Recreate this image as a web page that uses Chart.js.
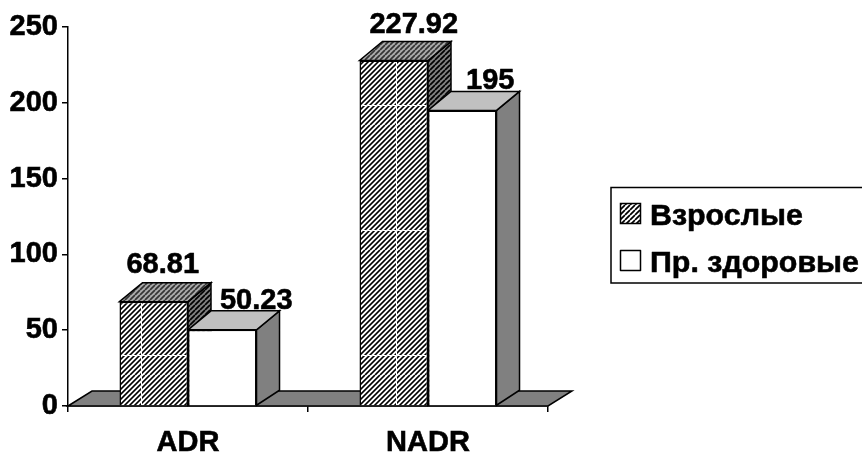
<!DOCTYPE html>
<html><head><meta charset="utf-8">
<style>html,body{margin:0;padding:0;background:#fff}#w{width:862px;height:457px;position:relative}</style>
<script src="https://cdn.jsdelivr.net/npm/chart.js@4"></script></head>
<body><div id="w"><canvas id="c" width="862" height="457"></canvas></div>
<script>
const categories = ['ADR', 'NADR'];
const adults = [68.81, 227.92];
const healthy = [50.23, 195];
const adultsLabels = ['68.81', '227.92'];
const healthyLabels = ['50.23', '195'];
const yTicks = [0, 50, 100, 150, 200, 250];
const seriesNames = ['Взрослые', 'Пр. здоровые'];

const FAMILY = '"Liberation Sans", Arial, sans-serif';
const HEAVY = 0.6;
function hatch(ctx, fg, bg, seams) {
  const w = seams ? 255 : 5, h = seams ? 125 : 5;
  const t = document.createElement('canvas'); t.width = w; t.height = h;
  const g = t.getContext('2d');
  g.fillStyle = bg; g.fillRect(0, 0, w, h);
  g.strokeStyle = fg; g.lineWidth = 1.7;
  g.beginPath();
  for (let k = -h - 5; k < w + h + 5; k += 5) { g.moveTo(k, h); g.lineTo(k + h, 0); }
  g.stroke();
  if (seams) { g.fillStyle = bg; g.fillRect(141, 0, 1, h); g.fillRect(0, 105, w, 1); }
  return ctx.createPattern(t, 'repeat');
}
const ctx = document.getElementById('c').getContext('2d');
const frontHatch = hatch(ctx, '#000', '#fff', true);
const topHatch = hatch(ctx, '#333', '#aaa', false);
const sideHatch = hatch(ctx, '#000', '#808080', false);

const DX = 23, DY = 19, FLOOR_DX = 24, FLOOR_DY = 15, SIDE_BOTTOM_DY = 15;
function poly(c, pts, fill) {
  c.beginPath(); pts.forEach((p, i) => i ? c.lineTo(p[0], p[1]) : c.moveTo(p[0], p[1])); c.closePath();
  c.fillStyle = fill; c.fill(); c.lineWidth = 1.5; c.strokeStyle = '#000'; c.stroke();
}
function heavyText(c, s, x, y) {
  c.fillStyle = '#000'; c.strokeStyle = '#000'; c.lineWidth = HEAVY; c.lineJoin = 'round';
  c.fillText(s, x, y); c.strokeText(s, x, y);
}
const depth = {
  id: 'depth',
  beforeDatasetsDraw(chart) {
    const c = chart.ctx, a = chart.chartArea;
    poly(c, [[a.left, a.bottom], [a.left + FLOOR_DX, a.bottom - FLOOR_DY], [a.right + FLOOR_DX, a.bottom - FLOOR_DY], [a.right, a.bottom]], '#808080');
    chart.data.datasets.forEach((d, i) => {
      chart.getDatasetMeta(i).data.forEach(b => {
        const l = b.x - b.width / 2, r = b.x + b.width / 2, t = b.y, bt = b.base;
        poly(c, [[r, t], [r + DX, t - DY], [r + DX, bt - SIDE_BOTTOM_DY], [r, bt]], i ? '#808080' : sideHatch);
        poly(c, [[l, t], [l + DX, t - DY], [r + DX, t - DY], [r, t]], i ? '#c0c0c0' : topHatch);
      });
    });
  }
};
const valueText = {
  id: 'valueText',
  afterDatasetsDraw(chart) {
    const c = chart.ctx;
    const shift = [[[9, -29], [20, -27]], [[34, -21], [28, -21]]];
    const text = [adultsLabels, healthyLabels];
    c.save(); c.font = 'bold 29px ' + FAMILY; c.textAlign = 'center'; c.textBaseline = 'alphabetic';
    chart.data.datasets.forEach((d, i) => chart.getDatasetMeta(i).data.forEach((b, j) => {
      heavyText(c, text[i][j], b.x + shift[i][j][0], b.y + shift[i][j][1]);
    }));
    c.restore();
  }
};
const legendBox = {
  id: 'legendBox',
  afterDraw(chart) {
    const c = chart.ctx;
    c.save();
    c.strokeStyle = '#000'; c.lineWidth = 1.5;
    c.strokeRect(611, 187.5, 262, 95.5);
    const swatches = [hatch(c, '#000', '#fff', false), '#fff'];
    seriesNames.forEach((name, i) => {
      const y = 203.5 + i * 47;
      c.fillStyle = swatches[i]; c.fillRect(620.5, y, 20, 20);
      c.strokeStyle = '#000'; c.lineWidth = 1.5; c.strokeRect(620.5, y, 20, 20);
      c.font = 'bold 30.4px ' + FAMILY; c.textAlign = 'left'; c.textBaseline = 'alphabetic';
      heavyText(c, name, 650, y + 21);
    });
    c.restore();
  }
};
new Chart(ctx, {
  type: 'bar',
  data: {
    labels: categories,
    datasets: [
      { label: seriesNames[0], data: adults, backgroundColor: frontHatch, borderColor: '#000', borderWidth: 1.5 },
      { label: seriesNames[1], data: healthy, backgroundColor: '#fff', borderColor: '#000', borderWidth: 1.5 }
    ]
  },
  options: {
    responsive: false, animation: false, events: [],
    layout: { padding: { top: 27, right: 314, bottom: 0, left: 0 } },
    datasets: { bar: { barPercentage: 1, categoryPercentage: 0.571 } },
    plugins: { legend: { display: false }, tooltip: { enabled: false }, title: { display: false } },
    scales: {
      x: {
        afterFit(s) { s.height = 51; },
        grid: { drawOnChartArea: false, color: '#000', lineWidth: 1.5, tickLength: 6 },
        border: { color: '#000', width: 1.5 },
        ticks: { color: '#000', textStrokeColor: '#000', textStrokeWidth: HEAVY, font: { family: FAMILY, weight: 'bold', size: 29, lineHeight: 1 }, padding: 16, maxRotation: 0 }
      },
      y: {
        min: 0, max: 250,
        afterBuildTicks(s) { s.ticks = yTicks.map(v => ({ value: v })); },
        afterFit(s) { s.width = 68; },
        grid: { drawOnChartArea: false, color: '#000', lineWidth: 1.5, tickLength: 6 },
        border: { color: '#000', width: 1.5 },
        ticks: { color: '#000', textStrokeColor: '#000', textStrokeWidth: HEAVY, font: { family: FAMILY, weight: 'bold', size: 29 }, padding: 4 }
      }
    }
  },
  plugins: [depth, valueText, legendBox]
});
</script></body></html>
